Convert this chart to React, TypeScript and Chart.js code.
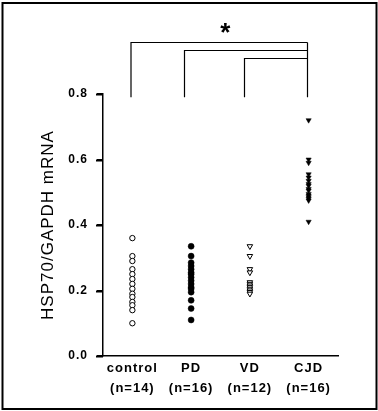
import React, { useEffect, useRef } from "react";
import { Chart, registerables } from "chart.js";

Chart.register(...registerables);

const categories = ["control", "PD", "VD", "CJD"];
const groupSizes = ["(n=14)", "(n=16)", "(n=12)", "(n=16)"];
const controlValues = [0.36, 0.305, 0.29, 0.265, 0.25, 0.235, 0.22, 0.205, 0.19, 0.18, 0.165, 0.155, 0.14, 0.1];
const pdValues = [0.335, 0.305, 0.285, 0.275, 0.265, 0.255, 0.25, 0.24, 0.23, 0.22, 0.21, 0.205, 0.195, 0.17, 0.145, 0.11];
const vdValues = [0.335, 0.305, 0.265, 0.255, 0.225, 0.22, 0.215, 0.21, 0.205, 0.2, 0.195, 0.19];
const cjdValues = [0.72, 0.6, 0.59, 0.555, 0.545, 0.535, 0.525, 0.52, 0.51, 0.505, 0.495, 0.49, 0.485, 0.48, 0.475, 0.41];
const yTicks = [0, 0.2, 0.4, 0.6, 0.8];
const bracketLevels = [0.96, 0.935, 0.91];
const bracketBottom = 0.79;
const yTitle = "HSP70/GAPDH mRNA";
const significance = "*";

const FONT = "'Liberation Sans', Arial, Helvetica, sans-serif";

const toPoints = (cat: string, vals: number[]) => vals.map((v) => ({ x: cat, y: v }));

const decorPlugin = {
  id: "decor",
  beforeDraw(chart: any) {
    const ctx = chart.ctx;
    ctx.save();
    ctx.strokeStyle = "#000";
    ctx.lineWidth = 2;
    ctx.strokeRect(2.5, 3, 374, 406);
    ctx.restore();
    try {
      (ctx as any).letterSpacing = "1px";
    } catch (e) {}
  },
  afterDraw(chart: any) {
    const ctx = chart.ctx;
    const xs = chart.scales.x;
    const ys = chart.scales.y;
    const offsets = [-1.5, -7, -6, -2];
    const px = categories.map((c, i) => Math.round(xs.getPixelForValue(i)) + offsets[i] + 0.5);
    const yb = ys.getPixelForValue(bracketBottom);
    ctx.save();
    (ctx as any).letterSpacing = "0px";
    ctx.strokeStyle = "#000";
    ctx.fillStyle = "#000";
    // y-axis tick marks (outward)
    const ax = chart.chartArea.left;
    yTicks.forEach((v) => {
      const y = Math.round(ys.getPixelForValue(v));
      ctx.fillRect(ax - 7, y - 0.5, 7, 2);
    });
    // significance brackets
    ctx.lineWidth = 1.2;
    ctx.beginPath();
    for (let i = 0; i < 3; i++) {
      const yt = Math.round(ys.getPixelForValue(bracketLevels[i])) + 0.5;
      ctx.moveTo(px[i], yb);
      ctx.lineTo(px[i], yt);
      ctx.lineTo(px[3], yt);
    }
    const top = Math.round(ys.getPixelForValue(bracketLevels[0])) + 0.5;
    ctx.moveTo(px[3], top);
    ctx.lineTo(px[3], yb);
    ctx.stroke();
    ctx.font = `bold 26px ${FONT}`;
    ctx.textAlign = "center";
    ctx.textBaseline = "middle";
    ctx.fillText(significance, (px[0] + px[3]) / 2 + 6, top - 9);
    ctx.restore();
  },
};

export default function App() {
  const ref = useRef<HTMLCanvasElement>(null);
  useEffect(() => {
    if (!ref.current) return;
    const chart = new Chart(ref.current, {
      type: "scatter",
      data: {
        labels: categories,
        datasets: [
          {
            data: toPoints(categories[0], controlValues),
            pointStyle: "circle",
            pointRadius: 2.7,
            borderWidth: 1,
            borderColor: "#000",
            backgroundColor: "#fff",
          },
          {
            data: toPoints(categories[1], pdValues),
            pointStyle: "circle",
            pointRadius: 3,
            borderWidth: 0.5,
            borderColor: "#000",
            backgroundColor: "#000",
          },
          {
            data: toPoints(categories[2], vdValues),
            pointStyle: "triangle",
            rotation: 180,
            pointRadius: 3.2,
            borderWidth: 1,
            borderColor: "#000",
            backgroundColor: "#fff",
          },
          {
            data: toPoints(categories[3], cjdValues),
            pointStyle: "triangle",
            rotation: 180,
            pointRadius: 3,
            borderWidth: 0.5,
            borderColor: "#000",
            backgroundColor: "#000",
          },
        ] as any,
      },
      options: {
        animation: false,
        responsive: false,
        devicePixelRatio: 1,
        layout: { padding: { top: 94, right: 40, left: 0, bottom: 0 } },
        plugins: { legend: { display: false }, tooltip: { enabled: false } },
        scales: {
          x: {
            type: "category",
            labels: categories,
            offset: true,
            grid: { display: false, drawTicks: false, tickLength: 0 },
            border: { display: true, color: "#000", width: 1.5 },
            ticks: {
              color: "#000",
              padding: 2,
              font: { family: FONT, size: 13, weight: "bold", lineHeight: 1.55 },
              callback: (_v: any, i: number) => [categories[i], groupSizes[i]],
              maxRotation: 0,
              autoSkip: false,
            },
            afterFit: (s: any) => {
              s.height = 55;
            },
          },
          y: {
            min: 0,
            max: 0.8,
            afterBuildTicks: (s: any) => {
              s.ticks = yTicks.map((v) => ({ value: v }));
            },
            grid: { display: true, drawOnChartArea: false, drawTicks: true, tickLength: 6, color: "#000", lineWidth: 1.5 },
            border: { display: true, color: "#000", width: 1.5 },
            ticks: {
              color: "#000",
              padding: 9,
              font: { family: FONT, size: 12, weight: "bold" },
              callback: (v: any) => Number(v).toFixed(1),
            },
            title: {
              display: true,
              text: yTitle,
              color: "#000",
              font: { family: FONT, size: 17, weight: "normal" },
              padding: { top: 38, bottom: 0 },
            },
            afterFit: (s: any) => {
              s.width = 103;
            },
          },
        },
      } as any,
      plugins: [decorPlugin],
    });
    return () => chart.destroy();
  }, []);
  return (
    <div style={{ position: "absolute", left: 0, top: 0, width: 378, height: 411, background: "#fff" }}>
      <canvas ref={ref} width={378} height={411} style={{ display: "block" }} />
    </div>
  );
}
